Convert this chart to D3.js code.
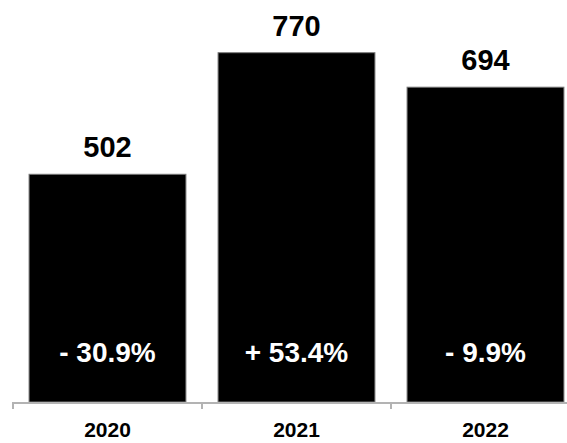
<!DOCTYPE html>
<html>
<head>
<meta charset="utf-8">
<script src="https://cdn.jsdelivr.net/npm/d3@7"></script>
<style>
  html, body { margin: 0; padding: 0; background: #fff; }
  svg { display: block; }
  text { font-family: "Helvetica Neue", Helvetica, Arial, "Liberation Sans", sans-serif; font-weight: bold; }
</style>
</head>
<body>
<svg id="chart" width="567" height="443"></svg>
<script>
// Yearly totals and year-over-year change
const years = ["2020", "2021", "2022"];
const totals = [502, 770, 694];
const changes = ["- 30.9%", "+ 53.4%", "- 9.9%"];

const width = 567, height = 443;
const svg = d3.select("#chart");

const x = d3.scaleBand()
  .domain(years)
  .range([13, 580])
  .paddingInner(0.17)
  .paddingOuter(0.085);

const y = d3.scaleLinear()
  .domain([0, 770])
  .range([402, 52.7]);

// Bars
svg.selectAll("rect.bar")
  .data(years)
  .join("rect")
  .attr("class", "bar")
  .attr("x", d => x(d))
  .attr("width", x.bandwidth())
  .attr("y", (d, i) => y(totals[i]))
  .attr("height", (d, i) => y(0) - y(totals[i]))
  .attr("fill", "#000")
  .attr("stroke", "#7a7a7a")
  .attr("stroke-width", 1);

// Value labels above bars
svg.selectAll("text.value")
  .data(years)
  .join("text")
  .attr("class", "value")
  .attr("x", d => x(d) + x.bandwidth() / 2)
  .attr("y", (d, i) => y(totals[i]) - 17)
  .attr("text-anchor", "middle")
  .attr("font-size", 29)
  .attr("fill", "#000")
  .text((d, i) => totals[i]);

// Change labels inside bars
svg.selectAll("text.change")
  .data(years)
  .join("text")
  .attr("class", "change")
  .attr("x", d => x(d) + x.bandwidth() / 2)
  .attr("y", 362)
  .attr("text-anchor", "middle")
  .attr("font-size", 28)
  .attr("fill", "#fff")
  .text((d, i) => changes[i]);

// Category axis with ticks at band boundaries
const axisG = svg.append("g");
axisG.append("line")
  .attr("x1", 12).attr("x2", width)
  .attr("y1", 403).attr("y2", 403)
  .attr("stroke", "#b3b3b3").attr("stroke-width", 2);
axisG.selectAll("line.tick")
  .data(years)
  .join("line")
  .attr("class", "tick")
  .attr("x1", d => x(d) - x.step() * x.paddingInner() / 2)
  .attr("x2", d => x(d) - x.step() * x.paddingInner() / 2)
  .attr("y1", 402).attr("y2", 409)
  .attr("stroke", "#b3b3b3").attr("stroke-width", 2);

axisG.selectAll("text.cat")
  .data(years)
  .join("text")
  .attr("class", "cat")
  .attr("x", d => x(d) + x.bandwidth() / 2)
  .attr("y", 437)
  .attr("text-anchor", "middle")
  .attr("font-size", 21)
  .attr("fill", "#000")
  .text(d => d);
</script>
</body>
</html>
